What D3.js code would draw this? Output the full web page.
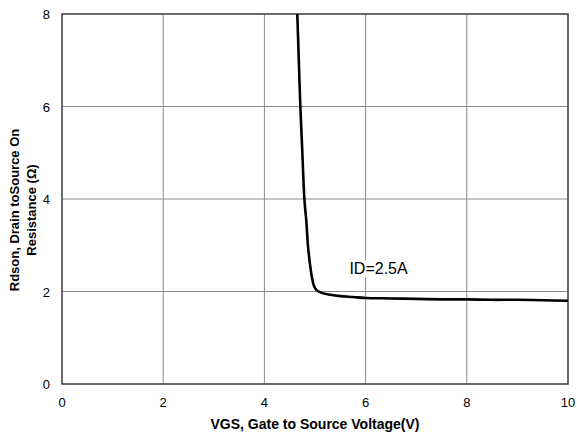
<!DOCTYPE html>
<html>
<head>
<meta charset="utf-8">
<script src="https://cdn.jsdelivr.net/npm/d3@7"></script>
<style>
  body { margin: 0; background: #fff; }
  svg { display: block; font-family: "Liberation Sans", Arial, sans-serif; }
</style>
</head>
<body>
<svg id="chart"></svg>
<script>
// Rdson vs VGS curve
var vgs  = [4.65, 4.68, 4.71, 4.75, 4.79, 4.83, 4.86, 4.90, 4.94, 4.98, 5.03, 5.13, 5.30, 5.50, 5.75, 6.0, 6.5, 7.0, 7.5, 8.0, 8.5, 9.0, 9.5, 10.0];
var rdson = [8.0, 7.0, 6.0, 5.0, 4.0, 3.5, 3.0, 2.6, 2.3, 2.12, 2.03, 1.97, 1.93, 1.90, 1.88, 1.86, 1.85, 1.84, 1.83, 1.83, 1.82, 1.82, 1.81, 1.80];
var xTicks = [0, 2, 4, 6, 8, 10];
var yTicks = [0, 2, 4, 6, 8];
var label = "ID=2.5A";

var width = 577
var height = 437
var margin = {top: 14, right: 9, bottom: 53, left: 62};

var svg = d3.select('#chart')
            .attr("width", width)
            .attr("height", height);

var x = d3.scaleLinear().domain([0, 10]).range([margin.left, width - margin.right]);
var y = d3.scaleLinear().domain([0, 8]).range([height - margin.bottom, margin.top]);

// grid
svg.append("g")
  .selectAll("line")
  .data(xTicks.slice(1, -1))
  .join("line")
    .attr("x1", d => x(d)).attr("x2", d => x(d))
    .attr("y1", y(0)).attr("y2", y(8))
    .attr("stroke", "#8a8a8a")
    .attr("stroke-width", 1);

svg.append("g")
  .selectAll("line")
  .data(yTicks.slice(1, -1))
  .join("line")
    .attr("x1", x(0)).attr("x2", x(10))
    .attr("y1", d => y(d)).attr("y2", d => y(d))
    .attr("stroke", "#8a8a8a")
    .attr("stroke-width", 1);

// frame
svg.append("rect")
  .attr("x", x(0)).attr("y", y(8))
  .attr("width", x(10) - x(0)).attr("height", y(0) - y(8))
  .attr("fill", "none")
  .attr("stroke", "#3a3a3a")
  .attr("stroke-width", 1.5);

// tick labels
svg.append("g")
  .selectAll("text")
  .data(xTicks)
  .join("text")
    .attr("x", d => x(d))
    .attr("y", y(0) + 23)
    .attr("text-anchor", "middle")
    .attr("font-size", 13)
    .text(d => d);

svg.append("g")
  .selectAll("text")
  .data(yTicks)
  .join("text")
    .attr("x", x(0) - 12)
    .attr("y", d => y(d) + 5)
    .attr("text-anchor", "end")
    .attr("font-size", 13)
    .text(d => d);

// data label with white box
var lab = svg.append("g");
var lt = lab.append("text")
  .attr("x", x(5.68))
  .attr("y", y(2.37))
  .attr("font-size", 16)
  .text(label);
var bb = lt.node().getBBox();
lab.insert("rect", "text")
  .attr("x", bb.x - 2).attr("y", bb.y)
  .attr("width", bb.width + 4).attr("height", bb.height)
  .attr("fill", "#fff");

// curve
svg.append("clipPath").attr("id", "clip")
  .append("rect")
  .attr("x", x(0)).attr("y", y(8))
  .attr("width", x(10) - x(0)).attr("height", y(0) - y(8));

var pts = vgs.map((v, i) => [v, rdson[i]]);
svg.append("path")
  .datum(pts)
  .attr("clip-path", "url(#clip)")
  .attr("fill", "none")
  .attr("stroke", "#000")
  .attr("stroke-width", 2.6)
  .attr("d", d3.line().x(d => x(d[0])).y(d => y(d[1])).curve(d3.curveCatmullRom));

// axis titles
svg.append("text")
  .attr("x", (x(0) + x(10)) / 2)
  .attr("y", 429)
  .attr("text-anchor", "middle")
  .attr("font-size", 14)
  .attr("font-weight", "bold")
  .text("VGS, Gate to Source Voltage(V)");

var yt = svg.append("text")
  .attr("transform", "translate(19,210) rotate(-90)")
  .attr("text-anchor", "middle")
  .attr("font-size", 13)
  .attr("font-weight", "bold");
yt.append("tspan").attr("x", 0).attr("dy", 0).text("Rdson, Drain toSource On");
yt.append("tspan").attr("x", 0).attr("dy", 17).text("Resistance (Ω)");
</script>
</body>
</html>
